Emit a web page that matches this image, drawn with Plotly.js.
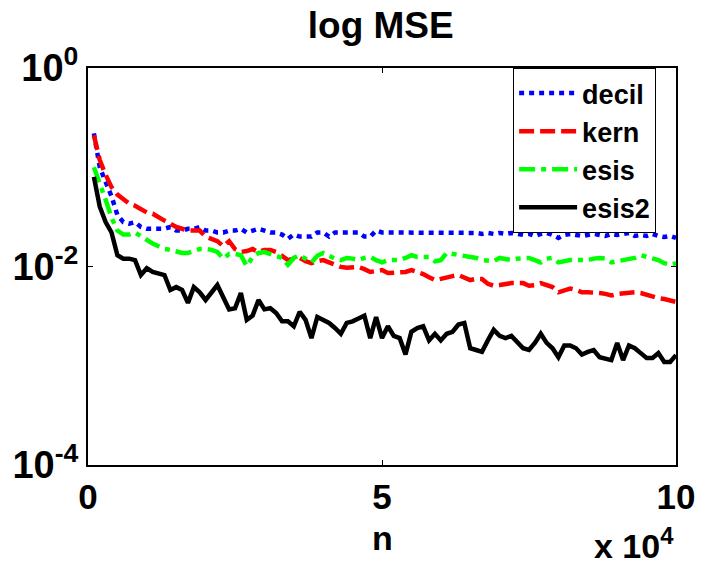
<!DOCTYPE html>
<html>
<head>
<meta charset="utf-8">
<script src="https://cdn.plot.ly/plotly-3.0.1.min.js"></script>
<style>html,body{margin:0;padding:0;background:#fff;}#chart{width:709px;height:567px;}</style>
</head>
<body>
<div id="chart"></div>
<script>
// n values (x 10^4 on axis): 1000 ... 100000 in steps of 1000, shown in units of 10^4
const nScaled = [0.1,0.2,0.3,0.4,0.5,0.6,0.7,0.8,0.9,1.0,1.1,1.2,1.3,1.4,1.5,1.6,1.7,1.8,1.9,2.0,
2.1,2.2,2.3,2.4,2.5,2.6,2.7,2.8,2.9,3.0,3.1,3.2,3.3,3.4,3.5,3.6,3.7,3.8,3.9,4.0,
4.1,4.2,4.3,4.4,4.5,4.6,4.7,4.8,4.9,5.0,5.1,5.2,5.3,5.4,5.5,5.6,5.7,5.8,5.9,6.0,
6.1,6.2,6.3,6.4,6.5,6.6,6.7,6.8,6.9,7.0,7.1,7.2,7.3,7.4,7.5,7.6,7.7,7.8,7.9,8.0,
8.1,8.2,8.3,8.4,8.5,8.6,8.7,8.8,8.9,9.0,9.1,9.2,9.3,9.4,9.5,9.6,9.7,9.8,9.9,10.0];

const decil = [0.22,0.10,0.071,0.051,0.033,0.028,0.027,0.028,0.025,0.024,
0.024,0.024,0.024,0.025,0.023,0.023,0.024,0.024,0.025,0.023,
0.023,0.022,0.022,0.023,0.023,0.024,0.022,0.023,0.024,0.023,
0.022,0.022,0.021,0.019,0.021,0.020,0.020,0.020,0.022,0.022,
0.020,0.022,0.022,0.022,0.022,0.022,0.020,0.020,0.023,0.022,
0.022,0.022,0.022,0.022,0.022,0.022,0.022,0.022,0.022,0.022,
0.022,0.022,0.022,0.022,0.022,0.0218,0.0213,0.0218,0.0213,0.0218,
0.0213,0.0218,0.0213,0.0208,0.0213,0.0203,0.0213,0.0218,0.0208,0.0194,
0.0208,0.0213,0.0208,0.0203,0.0208,0.0213,0.0208,0.0203,0.0213,0.0208,
0.0213,0.0218,0.0203,0.0208,0.0203,0.0213,0.0203,0.0198,0.0203,0.0194];

const kern = [0.21,0.118,0.084,0.063,0.053,0.047,0.043,0.041,0.038,0.035,
0.034,0.031,0.029,0.027,0.025,0.024,0.023,0.023,0.023,0.020,
0.019,0.018,0.016,0.018,0.015,0.014,0.0143,0.015,0.014,0.0147,
0.0147,0.014,0.0128,0.0116,0.012,0.0122,0.0113,0.0108,0.0113,0.0116,
0.011,0.0104,0.0099,0.0097,0.0097,0.0099,0.0094,0.0088,0.009,0.0092,
0.0086,0.0086,0.0086,0.0088,0.0092,0.0088,0.0084,0.0078,0.0073,0.0075,
0.0078,0.008,0.0082,0.0077,0.0073,0.0075,0.0075,0.0067,0.0064,0.0065,
0.0067,0.0068,0.0068,0.0068,0.0064,0.0065,0.0068,0.0065,0.0062,0.0055,
0.0058,0.006,0.0058,0.0055,0.0055,0.0055,0.0054,0.0053,0.0051,0.0053,
0.0054,0.0055,0.0055,0.0054,0.0052,0.0049,0.0048,0.0047,0.0046,0.0044];

const esis = [0.10,0.071,0.047,0.031,0.023,0.021,0.021,0.022,0.020,0.0185,
0.017,0.016,0.015,0.0147,0.014,0.0137,0.0137,0.0143,0.015,0.015,
0.0147,0.014,0.012,0.0134,0.0134,0.013,0.0101,0.0125,0.0137,0.014,
0.0134,0.013,0.0122,0.0104,0.0122,0.013,0.012,0.011,0.0128,0.0137,
0.0128,0.012,0.0116,0.0122,0.012,0.0116,0.0122,0.0125,0.0116,0.011,
0.0116,0.0116,0.0116,0.0122,0.013,0.0125,0.0125,0.0125,0.0113,0.0116,
0.0137,0.0134,0.0128,0.0128,0.0125,0.0122,0.0116,0.0113,0.0113,0.0122,
0.012,0.0116,0.012,0.0122,0.0122,0.0116,0.011,0.012,0.0122,0.011,
0.0113,0.0116,0.0116,0.0116,0.0116,0.012,0.0122,0.012,0.011,0.0113,
0.0116,0.0116,0.0122,0.013,0.0125,0.012,0.0116,0.0108,0.0104,0.0108];

const esis2 = [0.080,0.040,0.028,0.022,0.013,0.012,0.012,0.0116,0.0082,0.0096,
0.0088,0.0086,0.0082,0.0058,0.0062,0.0058,0.0043,0.0062,0.0055,0.0046,
0.0055,0.0065,0.0049,0.0037,0.0038,0.0054,0.0029,0.0032,0.0046,0.0037,
0.0038,0.0034,0.0028,0.0028,0.0025,0.0035,0.0029,0.0019,0.0031,0.0029,
0.0027,0.0024,0.0021,0.0027,0.0028,0.0030,0.0032,0.0019,0.0031,0.0019,
0.0025,0.0020,0.0019,0.0013,0.0022,0.0024,0.0025,0.0018,0.0021,0.0018,
0.0021,0.0022,0.0026,0.0027,0.0015,0.00144,0.00138,0.0018,0.0023,0.0020,
0.0019,0.0020,0.0017,0.0015,0.00144,0.0017,0.0021,0.0017,0.0015,0.00122,
0.0016,0.0016,0.0015,0.0013,0.00138,0.00144,0.00122,0.00117,0.00114,0.0017,
0.00114,0.0016,0.0015,0.00134,0.0012,0.0012,0.00134,0.00109,0.00109,0.00128];

const seriesNames = ['decil','kern','esis','esis2'];
const yTickVals = [1e-4, 1e-2, 1];
const yTickText = ['10<sup>-4</sup>','10<sup>-2</sup>','10<sup>0</sup>'];
const xTickVals = [0, 5, 10];
const xTickText = ['0','5','10'];

const FONT = 'Liberation Sans, Arial, sans-serif';

const traces = [
  {x: nScaled, y: decil, name: seriesNames[0], mode: 'lines', line: {color: '#0000ff', width: 4.5, dash: '5px,5px'}},
  {x: nScaled, y: kern,  name: seriesNames[1], mode: 'lines', line: {color: '#ff0000', width: 4.5, dash: '15px,6px'}},
  {x: nScaled, y: esis,  name: seriesNames[2], mode: 'lines', line: {color: '#00ff00', width: 4.5, dash: '16px,6px,5px,6px'}},
  {x: nScaled, y: esis2, name: seriesNames[3], mode: 'lines', line: {color: '#000000', width: 4.5, dash: 'solid'}}
];

const layout = {
  width: 709, height: 567,
  margin: {l: 88, r: 33, t: 68, b: 102},
  paper_bgcolor: '#fff', plot_bgcolor: '#fff',
  showlegend: true,
  font: {family: FONT, color: '#000', weight: 'bold'},
  title: {text: 'log MSE', font: {family: FONT, size: 37, color: '#000', weight: 'bold'},
          x: 0.537, xanchor: 'center', y: 0.955, yanchor: 'middle', yref: 'container'},
  xaxis: {
    range: [0, 10], tickmode: 'array', tickvals: xTickVals, ticktext: xTickText,
    ticks: 'inside', ticklen: 5, tickwidth: 1, tickcolor: '#000',
    showline: true, linecolor: '#000', linewidth: 2, mirror: 'ticks',
    showgrid: false, zeroline: false,
    tickfont: {family: FONT, size: 35, color: '#000', weight: 'bold'}
  },
  yaxis: {
    type: 'log', range: [-4, 0], tickmode: 'array', tickvals: yTickVals, ticktext: yTickText,
    ticks: 'inside', ticklen: 5, tickwidth: 1, tickcolor: '#000',
    showline: true, linecolor: '#000', linewidth: 2, mirror: 'ticks',
    showgrid: false, zeroline: false,
    tickfont: {family: FONT, size: 38, color: '#000', weight: 'bold'}
  },
  legend: {
    x: 0.723, y: 1, xanchor: 'left', yanchor: 'top',
    bgcolor: '#fff', bordercolor: '#000', borderwidth: 1,
    font: {family: FONT, size: 27, color: '#000', weight: 'bold'},
    tracegroupgap: 0, itemwidth: 58
  },
  annotations: [
    {text: 'n', xref: 'paper', yref: 'paper', x: 0.5, y: -0.183, xanchor: 'center', yanchor: 'middle',
     showarrow: false, font: {family: FONT, size: 34, color: '#000', weight: 'bold'}},
    {text: 'x 10<sup>4</sup>', xref: 'paper', yref: 'paper', x: 1.0, y: -0.197, xanchor: 'right', yanchor: 'middle',
     showarrow: false, font: {family: FONT, size: 34, color: '#000', weight: 'bold'}}
  ]
};

Plotly.newPlot('chart', traces, layout, {displayModeBar: false, staticPlot: true});
</script>
</body>
</html>
